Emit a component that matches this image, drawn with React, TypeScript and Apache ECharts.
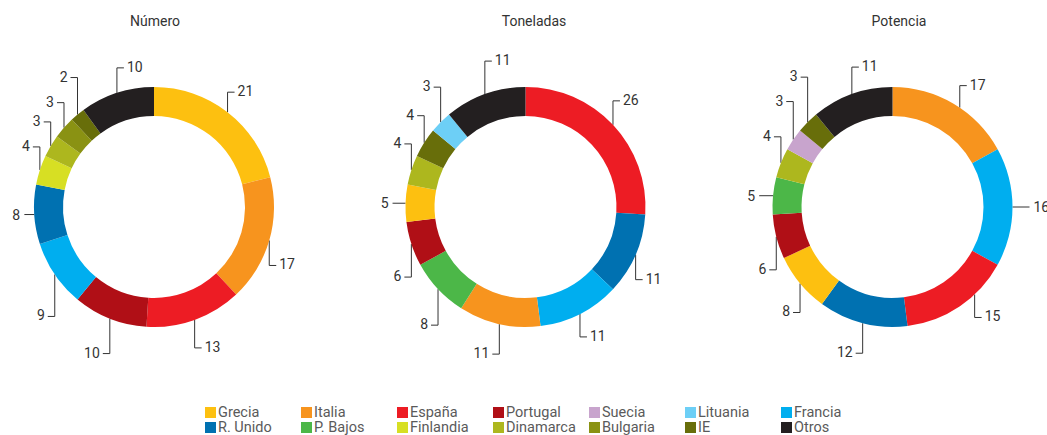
import React, { useEffect, useRef } from "react";
import * as echarts from "echarts";

// ---- data ----
const legendRow1 = ["Grecia", "Italia", "España", "Portugal", "Suecia", "Lituania", "Francia"];
const legendRow2 = ["R. Unido", "P. Bajos", "Finlandia", "Dinamarca", "Bulgaria", "IE", "Otros"];

const titles = ["Número", "Toneladas", "Potencia"];

const numeroNames = ["Grecia", "Italia", "España", "Portugal", "Francia", "R. Unido", "Finlandia", "Dinamarca", "Bulgaria", "IE", "Otros"];
const numeroValues = [21, 17, 13, 10, 9, 8, 4, 3, 3, 2, 10];

const toneladasNames = ["España", "R. Unido", "Francia", "Italia", "P. Bajos", "Portugal", "Grecia", "Dinamarca", "IE", "Lituania", "Otros"];
const toneladasValues = [26, 11, 11, 11, 8, 6, 5, 4, 4, 3, 11];

const potenciaNames = ["Italia", "Francia", "España", "R. Unido", "Grecia", "Portugal", "P. Bajos", "Dinamarca", "Suecia", "IE", "Otros"];
const potenciaValues = [17, 16, 15, 12, 8, 6, 5, 4, 3, 3, 11];

// ---- styling ----
const colorMap: Record<string, string> = {
  "Grecia": "#FDC010",
  "Italia": "#F7941E",
  "España": "#ED1C24",
  "Portugal": "#B00F16",
  "Suecia": "#C8A4CD",
  "Lituania": "#6DCFF6",
  "Francia": "#00AEEF",
  "R. Unido": "#0071B1",
  "P. Bajos": "#4CB748",
  "Finlandia": "#D7DF23",
  "Dinamarca": "#ADB71E",
  "Bulgaria": "#8A9213",
  "IE": "#686E0A",
  "Otros": "#231F20",
};

// leader-line lengths (px) and anchor angle shifts (deg) per slice, per chart
const numeroLeads = [20, 25, 28, 35, 42, 10, 23, 24, 25, 37, 25];
const toneladasLeads = [24, 25, 23, 30, 36, 33, 13, 26, 27, 35, 33];
const potenciaLeads = [22, 17, 23, 30, 29, 33, 14, 26, 38, 45, 27];
const numeroShifts = [0, 0, 0, 0, 0, 0, 0, 0, 0, 0, 0];
const toneladasShifts = [0, 0, 0, 0, 0, 0, 0, 0, 0, 0, 0];
const potenciaShifts = [-3.5, 0, 9, 0, 0, 0, 0, 0, 0, 0, 0];

const FONT = "Roboto, 'Liberation Sans', sans-serif";
const W = 1047;
const H = 435;
const CY = 207;
const R_OUT = 120;
const R_IN = 91;
const centersX = [154, 525.5, 892.5];
const titleX = [155, 534, 899];

function makeLayout(cx: number, cy: number, R: number, values: number[], leads: number[], shifts: number[]) {
  const total = values.reduce((a, b) => a + b, 0);
  return (params: any) => {
    const i = params.dataIndex;
    let cum = 0;
    for (let k = 0; k < i; k++) cum += values[k];
    const f = (cum + values[i] / 2) / total;
    const th = ((90 - f * 360 + shifts[i]) * Math.PI) / 180;
    const s = Math.sin(th);
    const c = Math.cos(th);
    const x0 = cx + R * c;
    const y0 = cy - R * s;
    const L = leads[i];
    if (Math.abs(s) < 0.15) {
      const dir = c > 0 ? 1 : -1;
      const x1 = x0 + dir * L;
      return {
        x: x1 + dir * 4,
        y: y0,
        align: dir > 0 ? "left" : "right",
        verticalAlign: "middle",
        labelLinePoints: [[x0, y0], [x1 - dir * 0.5, y0], [x1, y0]],
      };
    }
    const vdir = s > 0 ? -1 : 1;
    const y1 = y0 + vdir * L;
    const right = s > 0 ? x0 - cx > -0.4 * R : x0 > cx;
    const dir = right ? 1 : -1;
    const x2 = x0 + dir * 7;
    return {
      x: x2 + dir * 3,
      y: y1 - 1,
      align: right ? "left" : "right",
      verticalAlign: "middle",
      labelLinePoints: [[x0, y0], [x0, y1], [x2, y1]],
    };
  };
}

function pieSeries(idx: number, names: string[], values: number[], leads: number[], shifts: number[]) {
  return {
    type: "pie",
    name: titles[idx],
    center: [centersX[idx], CY],
    radius: [R_IN, R_OUT],
    startAngle: 90,
    clockwise: true,
    avoidLabelOverlap: false,
    silent: true,
    itemStyle: { borderWidth: 0 },
    label: {
      show: true,
      formatter: "{c}",
      color: "#333333",
      fontSize: 14,
      fontFamily: FONT,
    },
    labelLine: {
      show: true,
      lineStyle: { color: "#333333", width: 1 },
    },
    labelLayout: makeLayout(centersX[idx], CY, R_OUT, values, leads, shifts),
    emphasis: { disabled: true },
    data: names.map((n, k) => ({ name: n, value: values[k], itemStyle: { color: colorMap[n] } })),
  };
}

function legendRow(names: string[], top: number) {
  return {
    data: names,
    left: 205,
    top,
    orient: "horizontal",
    padding: 0,
    itemGap: 0,
    itemWidth: 11,
    itemHeight: 11,
    icon: "rect",
    selectedMode: false,
    formatter: "{t|{name}}",
    textStyle: {
      color: "#5a5a5a",
      fontFamily: FONT,
      fontSize: 14.5,
      rich: {
        t: {
          width: 83,
          fontSize: 14.5,
          lineHeight: 15,
          color: "#5a5a5a",
          fontFamily: FONT,
          padding: [0, 0, 0, -3],
        },
      },
    },
  };
}

export default function App() {
  const ref = useRef<HTMLDivElement>(null);
  useEffect(() => {
    if (!ref.current) return;
    const chart = echarts.init(ref.current, undefined, { renderer: "svg" });
    chart.setOption({
      animation: false,
      backgroundColor: "#ffffff",
      legend: [legendRow(legendRow1, 405), legendRow(legendRow2, 420)],
      graphic: titles.map((t, i) => ({
        type: "text",
        x: titleX[i],
        y: 21,
        style: {
          text: t,
          fill: "#333333",
          fontSize: 14,
          fontFamily: FONT,
          align: "center",
          verticalAlign: "middle",
        },
      })),
      series: [
        pieSeries(0, numeroNames, numeroValues, numeroLeads, numeroShifts),
        pieSeries(1, toneladasNames, toneladasValues, toneladasLeads, toneladasShifts),
        pieSeries(2, potenciaNames, potenciaValues, potenciaLeads, potenciaShifts),
      ],
    });
    return () => chart.dispose();
  }, []);
  return (
    <div
      ref={ref}
      style={{ position: "fixed", left: 0, top: 0, width: W, height: H }}
    />
  );
}
